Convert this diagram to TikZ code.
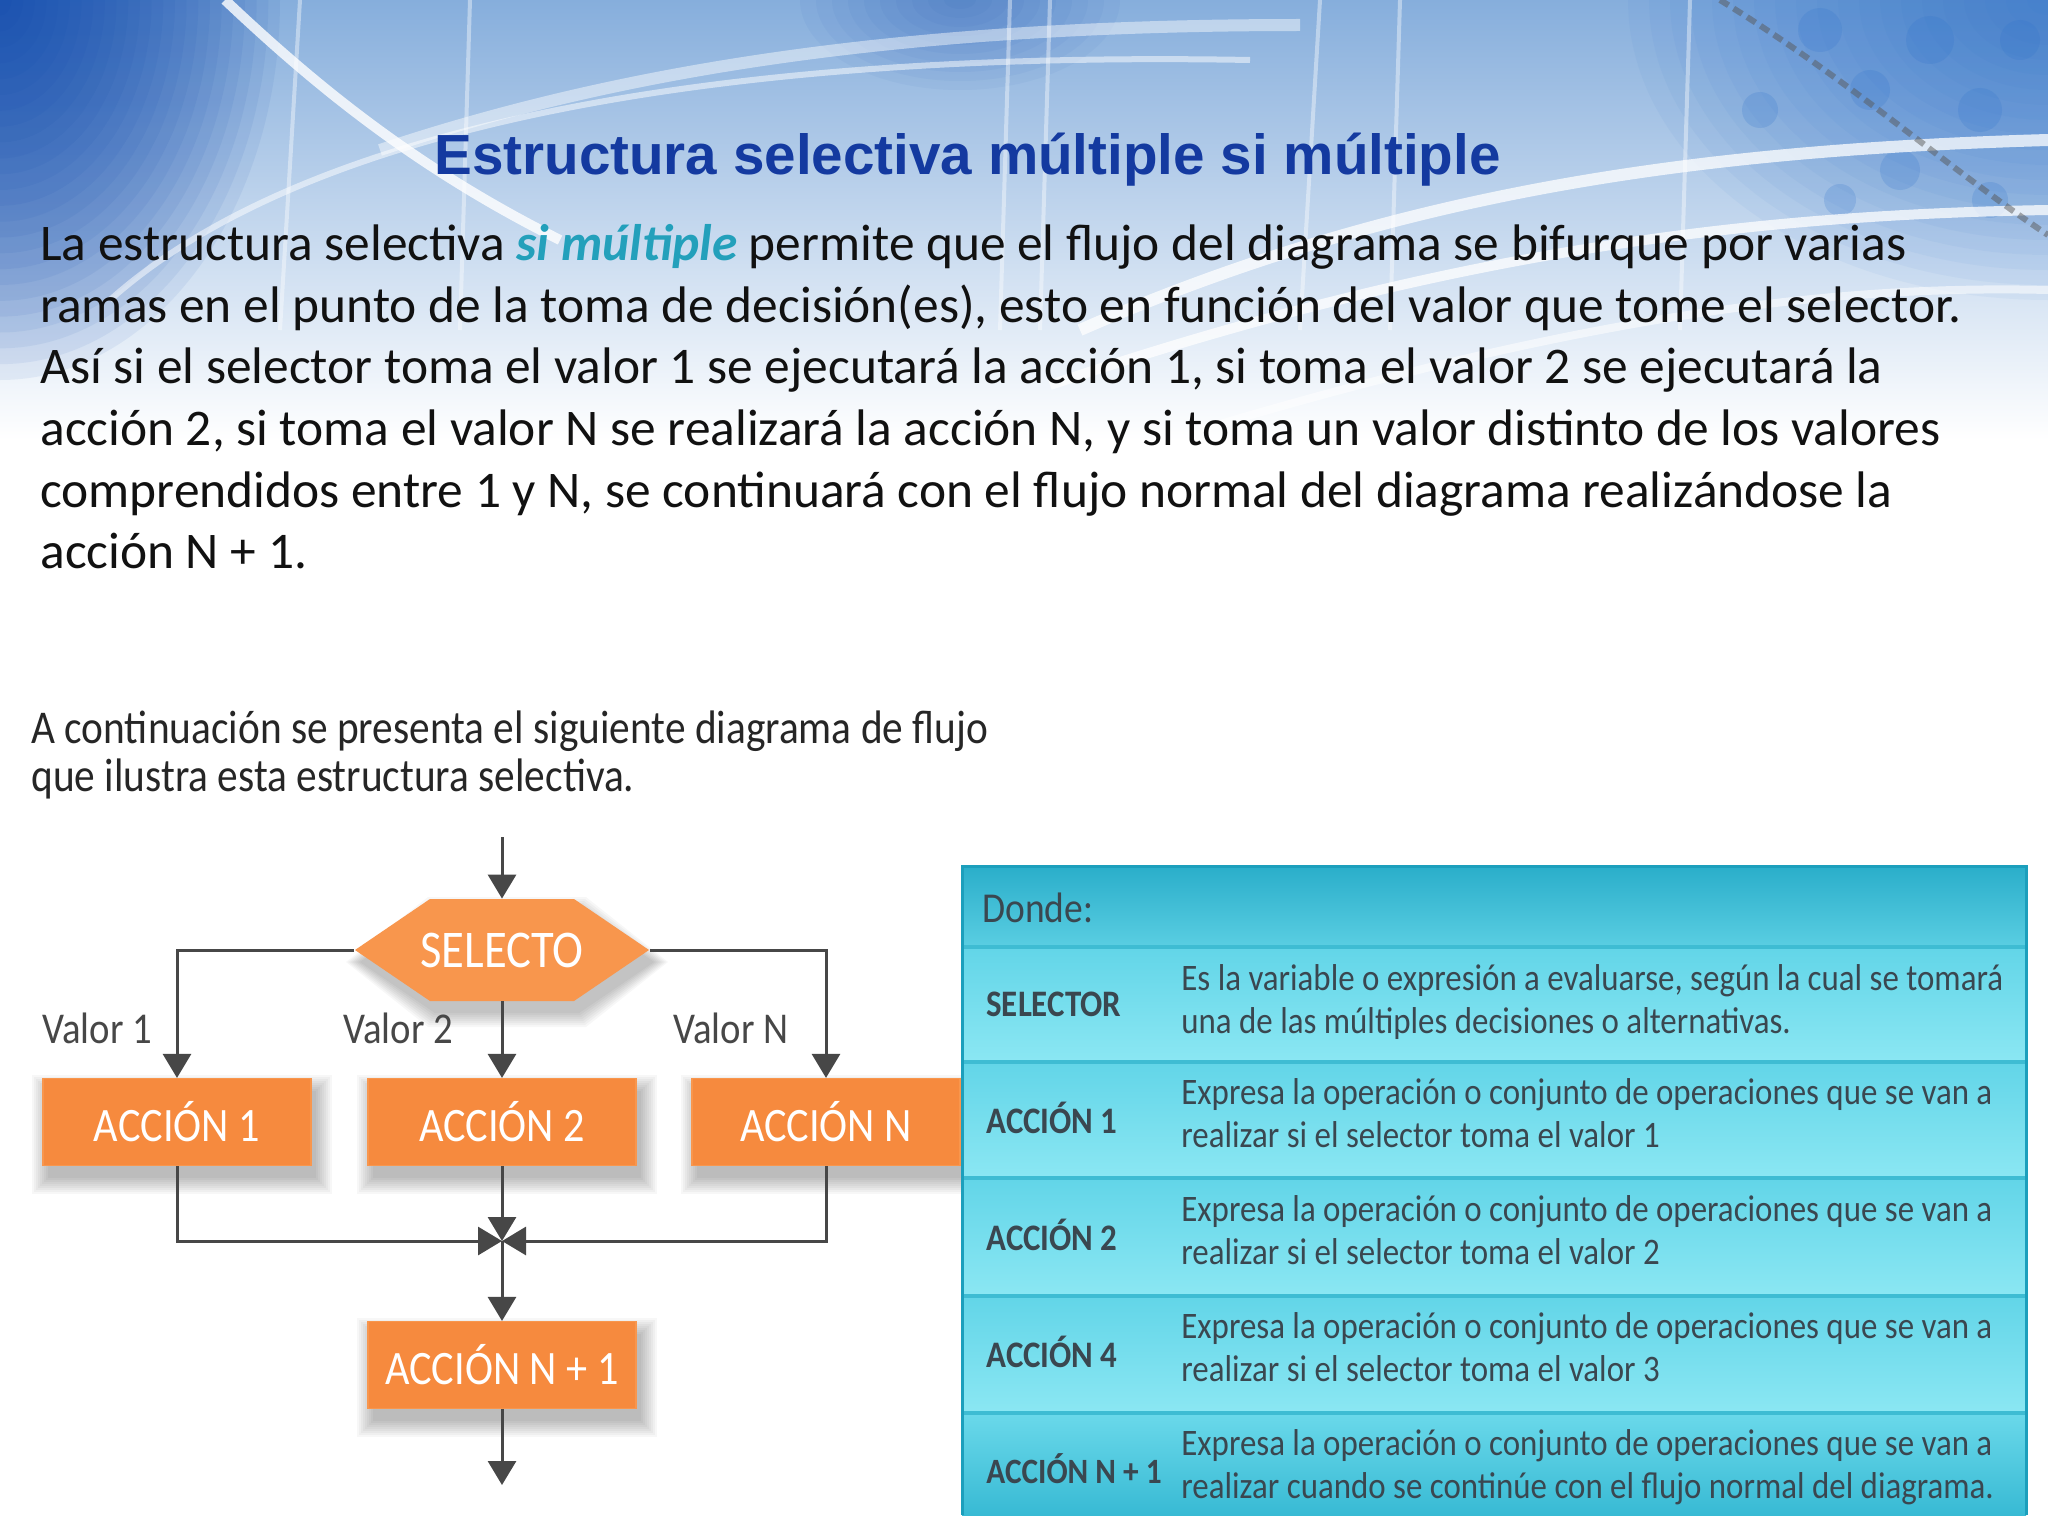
\documentclass[tikz,border=0pt]{standalone}
\usepackage{fontspec}
\setmainfont{Carlito}
\newfontfamily\titlefont{Liberation Sans}
\newfontfamily\condfont[FakeStretch=0.88]{Carlito}
\usetikzlibrary{arrows.meta,calc}
\definecolor{titleblue}{HTML}{143AA0}
\definecolor{teal1}{HTML}{23A0BB}
\definecolor{bodyk}{HTML}{111111}
\definecolor{lgray}{HTML}{474747}
\definecolor{orng}{HTML}{F68A3E}
\definecolor{orngL}{HTML}{F8964D}
\definecolor{hdrA}{HTML}{2AAECA}
\definecolor{hdrB}{HTML}{5ACEE2}
\definecolor{rowA}{HTML}{62D5E8}
\definecolor{rowB}{HTML}{8BE7F3}
\definecolor{rowC}{HTML}{38BAD4}
\definecolor{rowline}{HTML}{3EBCD3}
\definecolor{tborder}{HTML}{1C9FBC}
\definecolor{tbltext}{HTML}{3A4750}
\definecolor{bgA}{HTML}{86AEDC}
\definecolor{bgB}{HTML}{C9DCF0}
\definecolor{deepblue}{HTML}{0A45AC}
\definecolor{midblue}{HTML}{2E72CC}
\tikzset{
  bodyline/.style={anchor=base west, inner sep=0, font=\fontsize{25.7}{30}\selectfont, text=bodyk},
  introline/.style={anchor=base west, inner sep=0, font=\condfont\fontsize{23.5}{27}\selectfont, text=black!85},
  shadowlayer/.style={fill=black, opacity=0.03},
  actbox/.style={rectangle, fill=orng, draw=orngL, line width=0.6pt, minimum width=134pt, minimum height=43.5pt, inner sep=0, text=white, font=\condfont\fontsize{24}{28}\selectfont},
  hexlabel/.style={rectangle, minimum width=147.5pt, minimum height=51pt, inner sep=0, text=white, font=\condfont\fontsize{26.5}{30}\selectfont},
  vallabel/.style={anchor=west, inner sep=0, text=lgray, font=\condfont\fontsize{22}{26}\selectfont},
  arr/.style={draw=lgray, line width=1.5pt, -{Triangle[width=14pt,length=12pt]}},
  tlab/.style={anchor=west, inner sep=0, text=tbltext, font=\condfont\bfseries\fontsize{18.7}{22}\selectfont},
  tdesc/.style={anchor=base west, inner sep=0, text=tbltext, font=\condfont\fontsize{18.7}{22}\selectfont},
}
\begin{document}
\begin{tikzpicture}[x=0.5pt,y=-0.5pt]
\useasboundingbox (0,0) rectangle (2048,1536);
% ---------------- background ----------------
\fill[white] (0,0) rectangle (2048,1536);
\shade[top color=bgA, middle color=bgB, bottom color=white] (0,0) rectangle (2048,440);
\foreach \k in {1,...,24}
  \fill[deepblue, opacity=0.065] (0,0) ellipse ({280*\k/24} and {380*\k/24});
\foreach \k in {1,...,20}
  \fill[midblue, opacity=0.05] (2048,0) ellipse ({420*\k/20} and {300*\k/20});
\foreach \k in {1,...,10}
  \fill[deepblue, opacity=0.04] (960,0) ellipse ({160*\k/10} and {90*\k/10});
\foreach \cx/\cy/\r in {1820/30/22,1870/90/20,1930/40/24,1980/110/22,2020/40/20,1760/110/18,1900/170/20,1990/200/18,1840/200/16}
  \fill[midblue, opacity=.2] (\cx,\cy) circle (\r);
\draw[white, line width=5pt, opacity=.8] (225,0) .. controls (320,90) and (420,170) .. (560,240);
\draw[white, line width=3pt, opacity=.5] (110,300) .. controls (300,130) and (700,50) .. (1250,60);
\draw[white, line width=6pt, opacity=.45] (380,150) .. controls (620,70) and (900,25) .. (1300,25);
\draw[white, line width=6pt, opacity=.75] (1080,330) .. controls (1400,190) and (1700,150) .. (2048,140);
\draw[white, line width=5pt, opacity=.75] (1050,385) .. controls (1450,250) and (1750,215) .. (2048,210);
\draw[white, line width=4pt, opacity=.55] (1200,430) .. controls (1600,310) and (1850,285) .. (2048,290);
\foreach \xa/\xb in {300/280,470/460,1010/1000,1050/1040,1320/1300,1400/1390,1690/1680}
  \draw[white, opacity=.4, line width=2pt] (\xa,0) -- (\xb,330);
\draw[black!65, line width=3pt, dash pattern=on 5pt off 3pt, opacity=.5] (1720,0) .. controls (1850,80) and (1950,170) .. (2048,235);
% ---------------- title and text ----------------
\node[anchor=base west, inner sep=0, font=\titlefont\bfseries\fontsize{28.3}{34}\selectfont, text=titleblue] (title) at (434,174) {Estructura selectiva múltiple si múltiple};
\node[bodyline] (p1) at (40,260) {La estructura selectiva \textcolor{teal1}{\bfseries\itshape si múltiple} permite que el flujo del diagrama se bifurque por varias};
\node[bodyline] (p2) at (40,322) {ramas en el punto de la toma de decisión(es), esto en función del valor que tome el selector.};
\node[bodyline] (p3) at (40,383) {Así si el selector toma el valor 1 se ejecutará la acción 1, si toma el valor 2 se ejecutará la};
\node[bodyline] (p4) at (40,445) {acción 2, si toma el valor N se realizará la acción N, y si toma un valor distinto de los valores};
\node[bodyline] (p5) at (40,507) {comprendidos entre 1 y N, se continuará con el flujo normal del diagrama realizándose la};
\node[bodyline] (p6) at (40,568) {acción N + 1.};
\node[introline] (i1) at (31,743) {A continuación se presenta el siguiente diagrama de flujo};
\node[introline] (i2) at (31,791) {que ilustra esta estructura selectiva.};
% ---------------- flowchart shadows ----------------
\foreach \cx/\cy in {177/1122,502/1122,826/1122,502/1365}
  \foreach \e in {0,2,...,16}
    \fill[shadowlayer] ({\cx-134-\e+5},{\cy-43.5-\e+12}) rectangle ({\cx+134+\e+5},{\cy+43.5+\e+12});
\foreach \e in {0,2,...,14}
  \fill[shadowlayer] ({355-\e+5},{950+12}) -- ({430-\e/2+5},{899-\e+12}) -- ({574+\e/2+5},{899-\e+12}) -- ({649+\e+5},{950+12}) -- ({574+\e/2+5},{1001+\e+12}) -- ({430-\e/2+5},{1001+\e+12}) -- cycle;
% ---------------- flowchart ----------------
\coordinate (tin) at (502,837);
\fill[orngL] (355,950) -- (430,899) -- (574,899) -- (649,950) -- (574,1001) -- (430,1001) -- cycle;
\node[hexlabel] (sel) at (502,950) {SELECTO};
\node[actbox] (a1) at (177,1122) {ACCIÓN 1};
\node[actbox] (a2) at (502,1122) {ACCIÓN 2};
\node[actbox] (aN) at (826,1122) {ACCIÓN N};
\node[actbox] (aN1) at (502,1365) {ACCIÓN N + 1};
\node[vallabel] (v1) at (42,1028) {Valor 1};
\node[vallabel] (v2) at (343,1028) {Valor 2};
\node[vallabel] (vN) at (673,1028) {Valor N};
\coordinate (j) at (502,1241);
\coordinate (tout) at (502,1485);
\draw[arr] (tin) -- (sel.north);
\draw[arr] (sel.west) -| (a1.north);
\draw[arr] (sel.south) -- (a2.north);
\draw[arr] (sel.east) -| (aN.north);
\draw[arr] (a1.south) |- (j);
\draw[arr] (aN.south) |- (j);
\draw[arr] (a2.south) -- (j);
\draw[arr] (j) -- (aN1.north);
\draw[arr] (aN1.south) -- (tout);
% ---------------- table ----------------
\shade[top color=hdrA, bottom color=hdrB] (962,866) rectangle (2026,947);
\shade[top color=rowA, bottom color=rowB] (962,947) rectangle (2026,1062);
\shade[top color=rowA, bottom color=rowB] (962,1062) rectangle (2026,1178);
\shade[top color=rowA, bottom color=rowB] (962,1178) rectangle (2026,1296);
\shade[top color=rowA, bottom color=rowB] (962,1296) rectangle (2026,1413);
\shade[top color=rowA!80!rowB, bottom color=rowC] (962,1413) rectangle (2026,1515);
\foreach \yy in {947,1062,1178,1296,1413}
  \draw[rowline, line width=2pt] (962,\yy) -- (2026,\yy);
\draw[tborder, line width=1.5pt] (962,1515) -- (962,866) -- (2026,866) -- (2026,1515);
\node[anchor=west, inner sep=0, text=tbltext, font=\condfont\fontsize{21.3}{25}\selectfont] (donde) at (982,908) {Donde:};
\node[tlab] (l1) at (986,1004) {SELECTOR};
\node[tlab] (l2) at (986,1118) {ACCIÓN 1};
\node[tlab] (l3) at (986,1235) {ACCIÓN 2};
\node[tlab] (l4) at (986,1352) {ACCIÓN 4};
\node[tlab, font=\condfont\bfseries\fontsize{17.8}{22}\selectfont] (l5) at (986,1469) {ACCIÓN N + 1};
\node[tdesc] (d1a) at (1181,990) {Es la variable o expresión a evaluarse, según la cual se tomará};
\node[tdesc] (d1b) at (1181,1033) {una de las múltiples decisiones o alternativas.};
\node[tdesc] (d2a) at (1181,1104) {Expresa la operación o conjunto de operaciones que se van a};
\node[tdesc] (d2b) at (1181,1147) {realizar si el selector toma el valor 1};
\node[tdesc] (d3a) at (1181,1221) {Expresa la operación o conjunto de operaciones que se van a};
\node[tdesc] (d3b) at (1181,1264) {realizar si el selector toma el valor 2};
\node[tdesc] (d4a) at (1181,1338) {Expresa la operación o conjunto de operaciones que se van a};
\node[tdesc] (d4b) at (1181,1381) {realizar si el selector toma el valor 3};
\node[tdesc] (d5a) at (1181,1455) {Expresa la operación o conjunto de operaciones que se van a};
\node[tdesc] (d5b) at (1181,1498) {realizar cuando se continúe con el flujo normal del diagrama.};
\end{tikzpicture}
\end{document}
